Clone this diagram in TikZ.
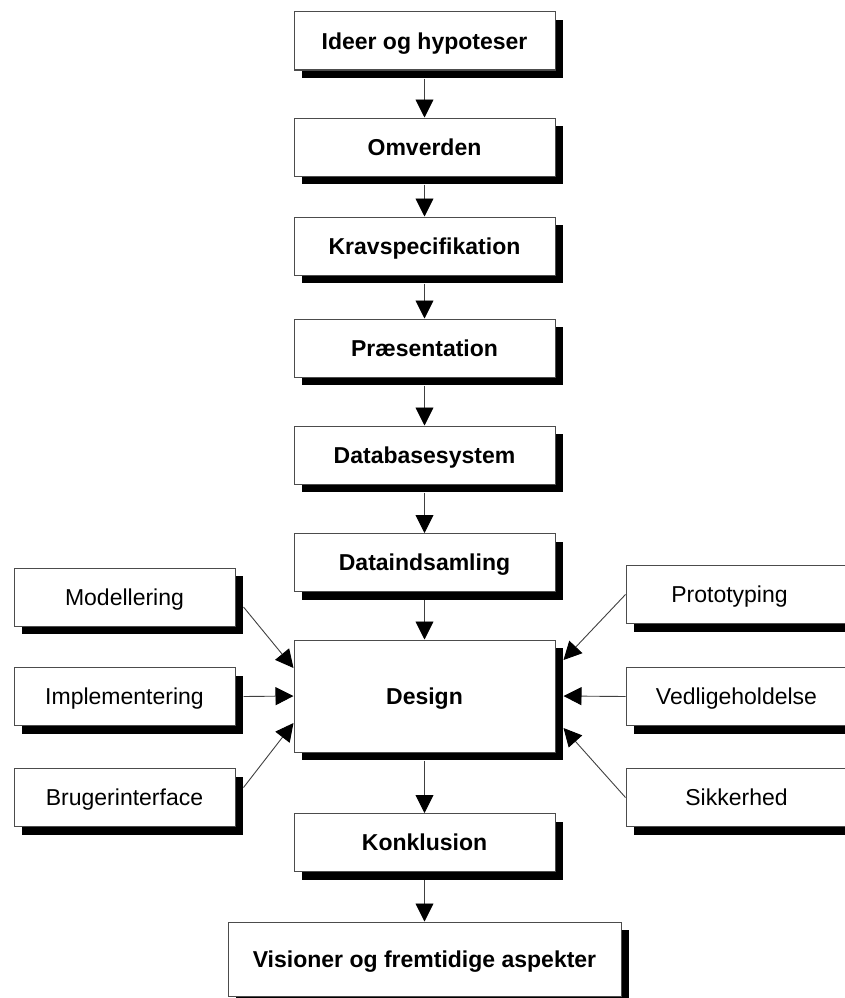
\documentclass[tikz,border=0pt]{standalone}
\usepackage{fontspec}
\setmainfont{Liberation Sans}
\usetikzlibrary{arrows.meta,shadows,calc}

\tikzset{
  box/.style={draw=black!70, line width=1pt, fill=white, inner sep=0pt,
    minimum height=58pt, font=\fontsize{23}{26}\selectfont,
    text height=16.6pt, text depth=0pt,
    drop shadow={fill=black, opacity=1, shadow xshift=8pt, shadow yshift=-8pt}},
  mainbox/.style={box, minimum width=261pt, font=\fontsize{23}{26}\selectfont\bfseries},
  sidebox/.style={box, minimum width=221pt},
  link/.style={draw=black!75, line width=0.9pt,
    -{Triangle[width=18pt,length=18pt,color=black]}}
}

\begin{document}
\begin{tikzpicture}[x=1pt, y=-1pt]
  \useasboundingbox (0,0) rectangle (845,998);

  % main chain
  \node[mainbox] (ideer)  at (424.5,41)    {Ideer og hypoteser};
  \node[mainbox] (omv)    at (424.5,147)   {Omverden};
  \node[mainbox] (krav)   at (424.5,246)   {Kravspecifikation};
  \node[mainbox] (praes)  at (424.5,348)   {Præsentation};
  \node[mainbox] (dbsys)  at (424.5,455)   {Databasesystem};
  \node[mainbox] (dataind) at (424.5,562.5) {Dataindsamling};
  \node[mainbox, minimum height=112pt] (design) at (424.5,696) {Design};
  \node[mainbox] (konkl)  at (424.5,842.5) {Konklusion};
  \node[mainbox, minimum width=393pt, minimum height=74pt] (vision) at (424.5,959)
       {Visioner og fremtidige aspekter};

  % side activities, left
  \node[sidebox] (model)  at (124.5,597)   {Modellering};
  \node[sidebox] (impl)   at (124.5,696.5) {Implementering};
  \node[sidebox] (bruger) at (124.5,797.5) {Brugerinterface};

  % side activities, right
  \node[sidebox] (proto)  at (736.5,594.5) {Prototyping\hspace*{14pt}};
  \node[sidebox] (vedl)   at (736.5,696.5) {Vedligeholdelse};
  \node[sidebox] (sikk)   at (736.5,797.5) {Sikkerhed};

  % vertical flow (starting below the shadows)
  \foreach \a/\b in {ideer/omv, omv/krav, krav/praes, praes/dbsys,
                     dbsys/dataind, dataind/design, design/konkl, konkl/vision}
    \draw[link] ($(\a.south)+(0,8)$) -- (\b.north);

  % inputs into Design
  \draw[link] ($(model.east)+(8,10)$)   -- ($(design.west)+(0,-28)$);
  \draw[link] ($(impl.east)+(8,0)$)     -- ($(design.west)+(0,0)$);
  \draw[link] ($(bruger.east)+(8,-10)$) -- ($(design.west)+(0,27)$);

  \draw[link] (proto.west) -- ($(design.east)+(8,-36)$);
  \draw[link] (vedl.west)  -- ($(design.east)+(8,0)$);
  \draw[link] (sikk.west)  -- ($(design.east)+(8,32)$);
\end{tikzpicture}
\end{document}
